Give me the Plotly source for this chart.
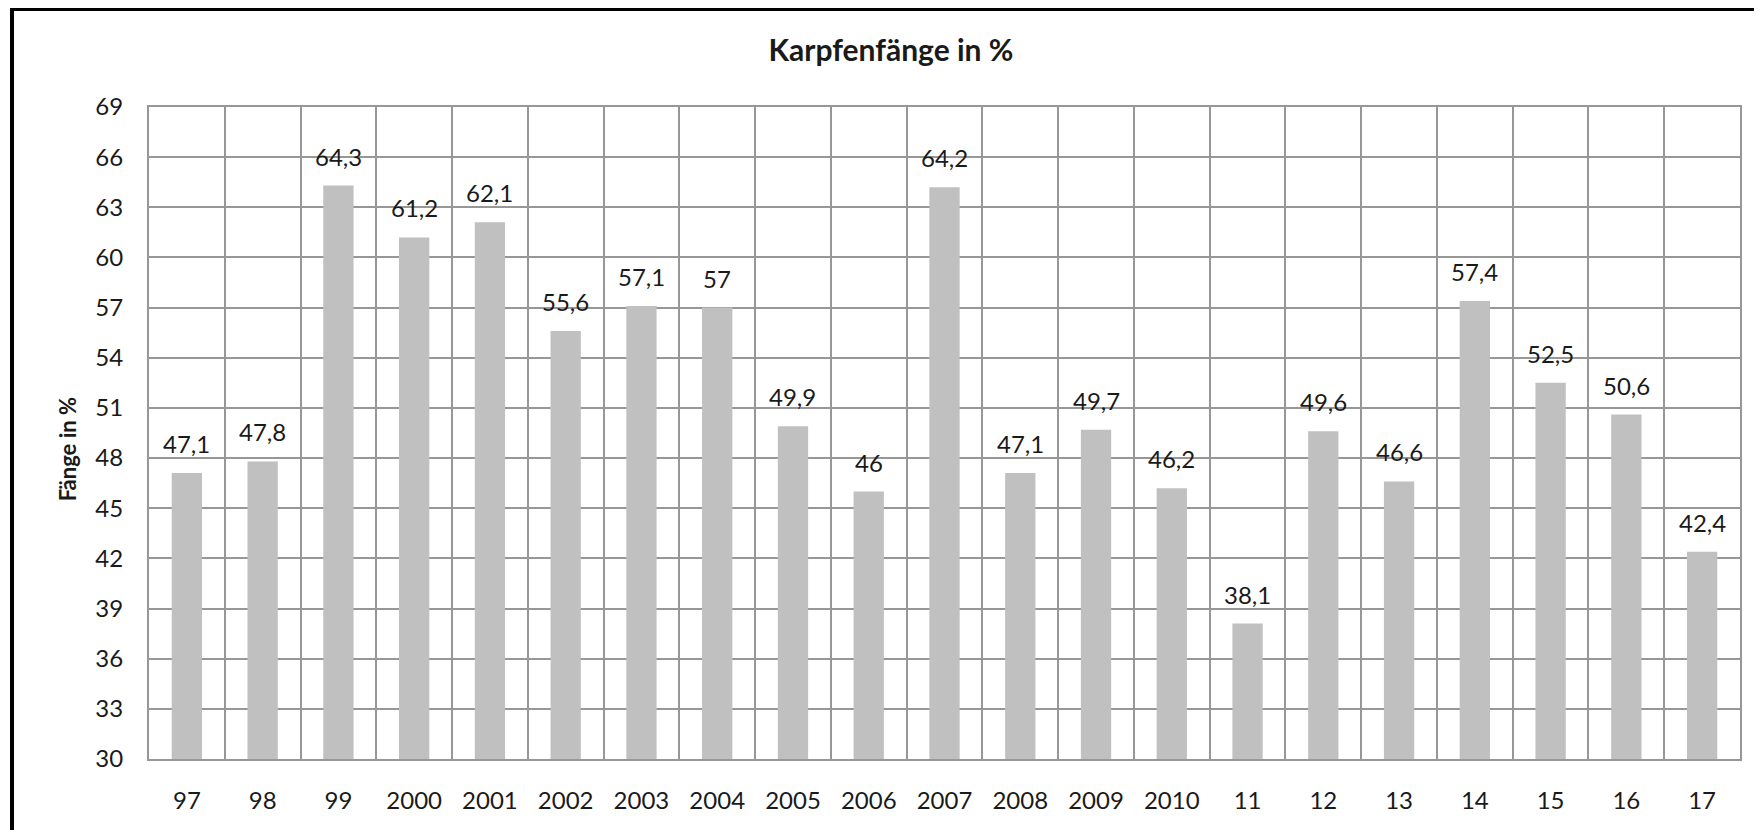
import plotly.graph_objects as go

# ===============================
# DATA
# ===============================

jahre = ["97", "98", "99", "2000", "2001", "2002", "2003", "2004", "2005", "2006",
         "2007", "2008", "2009", "2010", "11", "12", "13", "14", "15", "16", "17"]
fangquote = [47.1, 47.8, 64.3, 61.2, 62.1, 55.6, 57.1, 57, 49.9, 46,
             64.2, 47.1, 49.7, 46.2, 38.1, 49.6, 46.6, 57.4, 52.5, 50.6, 42.4]
y_ticks = list(range(30, 70, 3))

FONT = "Lato"
TXT = "#1a1a1a"
GRID = "#979797"

# ===============================
# FIGURE
# ===============================

fig = go.Figure()

fig.add_trace(go.Bar(
    x=jahre,
    y=fangquote,
    width=0.4,
    marker=dict(color="#c0c0c0", line=dict(width=0)),
))

# value labels above the bars (German decimal comma)
# x given as category index so numeric-looking labels are not misread
for i, v in enumerate(fangquote):
    fig.add_annotation(
        x=i, y=v, text=f"{v:g}".replace(".", ","),
        showarrow=False, yanchor="bottom", yshift=13,
        font=dict(family=FONT, size=24, color=TXT),
    )

# y axis title
fig.add_annotation(
    xref="paper", yref="paper", x=-0.0515, y=0.475,
    xanchor="center", yanchor="middle",
    text="<b>Fänge in %</b>", textangle=-90, showarrow=False,
    font=dict(family=FONT, size=22, color=TXT),
)

# outer chart frame (only left and top edges are visible in the crop)
fig.add_shape(
    type="rect", xref="paper", yref="paper",
    x0=-0.0861, x1=1.5, y0=-0.5, y1=1.1503,
    line=dict(color="black", width=4), layer="above",
)

fig.update_layout(
    width=1762, height=830,
    margin=dict(l=141, r=30, t=99, b=79, autoexpand=False),
    paper_bgcolor="white", plot_bgcolor="white",
    showlegend=False,
    title=dict(
        text="<b>Karpfenfänge in %</b>",
        x=0.5011, xref="container", xanchor="center",
        y=1 - 42 / 830, yref="container", yanchor="middle",
        font=dict(family=FONT, size=30, color=TXT),
    ),
    xaxis=dict(
        type="category", categoryorder="array", categoryarray=jahre,
        range=[-0.5, len(jahre) - 0.5],
        tickson="boundaries", tickangle=0, automargin=False,
        showgrid=True, gridcolor=GRID, gridwidth=2,
        showline=True, linecolor=GRID, linewidth=2, mirror=True,
        ticks="", ticklabelstandoff=19,
        tickfont=dict(family=FONT, size=24, color=TXT),
    ),
    yaxis=dict(
        range=[30, 69], automargin=False,
        tickvals=y_ticks,
        showgrid=True, gridcolor=GRID, gridwidth=2,
        showline=True, linecolor=GRID, linewidth=2, mirror=True,
        zeroline=False, ticks="", ticklabelstandoff=19,
        tickfont=dict(family=FONT, size=24, color=TXT),
    ),
)

fig.write_html("out.html")
